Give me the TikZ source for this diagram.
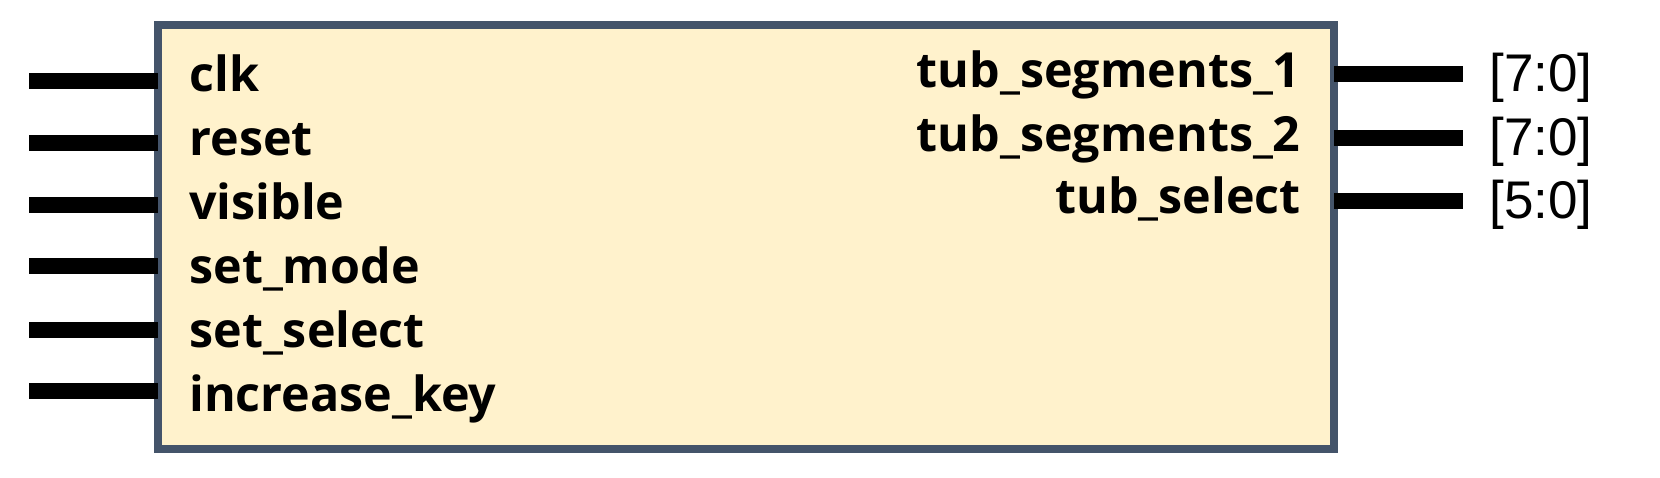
\documentclass[tikz,border=0pt]{standalone}
\usepackage{fontspec}
\setmainfont{Open Sans}
\newfontfamily\busfont{Liberation Sans}
\usetikzlibrary{positioning}
\definecolor{BX}{HTML}{44546A}
\definecolor{BXbg}{HTML}{FFF2CC}
\definecolor{PN}{RGB}{0,0,0}
\tikzset{
  % module body
  modbox/.style={
    draw=BX, fill=BXbg, line width=4pt,
    inner sep=0pt, outer sep=0pt,
    minimum width=588pt, minimum height=212pt
  },
  % port wire
  wire/.style={draw=PN, line width=8pt},
  % port names
  inlbl/.style={
    anchor=base west, inner sep=0pt,
    font=\fontsize{24.2pt}{30pt}\selectfont\bfseries
  },
  outlbl/.style={
    anchor=base east, inner sep=0pt,
    font=\fontsize{24.2pt}{30pt}\selectfont\bfseries
  },
  % bus widths
  buslbl/.style={
    anchor=base west, inner sep=0pt,
    font=\fontsize{26.5pt}{30pt}\selectfont\busfont
  },
}
\begin{document}
\begin{tikzpicture}[x=0.5pt, y=-0.5pt]
\useasboundingbox (0,0) rectangle (1660,477);

% ── Module body ──────────────────────────────────────────────────────────────
\node[modbox] (blk) at (746,237) {};

% ── Inputs ───────────────────────────────────────────────────────────────────
\coordinate (iClk) at (29,81);
\coordinate (iRst) at (29,143);
\coordinate (iVis) at (29,205);
\coordinate (iMode) at (29,266);
\coordinate (iSel) at (29,330);
\coordinate (iKey) at (29,391);

\draw[wire] (iClk)  -- (blk.west |- iClk);
\draw[wire] (iRst)  -- (blk.west |- iRst);
\draw[wire] (iVis)  -- (blk.west |- iVis);
\draw[wire] (iMode) -- (blk.west |- iMode);
\draw[wire] (iSel)  -- (blk.west |- iSel);
\draw[wire] (iKey)  -- (blk.west |- iKey);

\node[inlbl] (lClk)  at (189,91)    {clk};
\node[inlbl] (lRst)  at (189,155)   {reset};
\node[inlbl] (lVis)  at (189,219)   {visible};
\node[inlbl] (lMode) at (189,283)   {set\_mode};
\node[inlbl] (lSel)  at (189,347.5) {set\_select};
\node[inlbl] (lKey)  at (189,411.5) {increase\_key};

% ── Outputs ──────────────────────────────────────────────────────────────────
\coordinate (oSeg1) at (1463,74);
\coordinate (oSeg2) at (1463,138);
\coordinate (oTub)  at (1463,201);

\draw[wire] (blk.east |- oSeg1) -- (oSeg1);
\draw[wire] (blk.east |- oSeg2) -- (oSeg2);
\draw[wire] (blk.east |- oTub)  -- (oTub);

\node[outlbl] (lSeg1) at (1301,87.5)  {tub\_segments\_1};
\node[outlbl] (lSeg2) at (1301,151)   {tub\_segments\_2};
\node[outlbl] (lTub)  at (1301,213.5) {tub\_select};

% ── Bus widths ───────────────────────────────────────────────────────────────
\node[buslbl] (bSeg1) at (1489,91)  {[7:0]};
\node[buslbl] (bSeg2) at (1489,155) {[7:0]};
\node[buslbl] (bTub)  at (1489,218) {[5:0]};

\end{tikzpicture}
\end{document}
